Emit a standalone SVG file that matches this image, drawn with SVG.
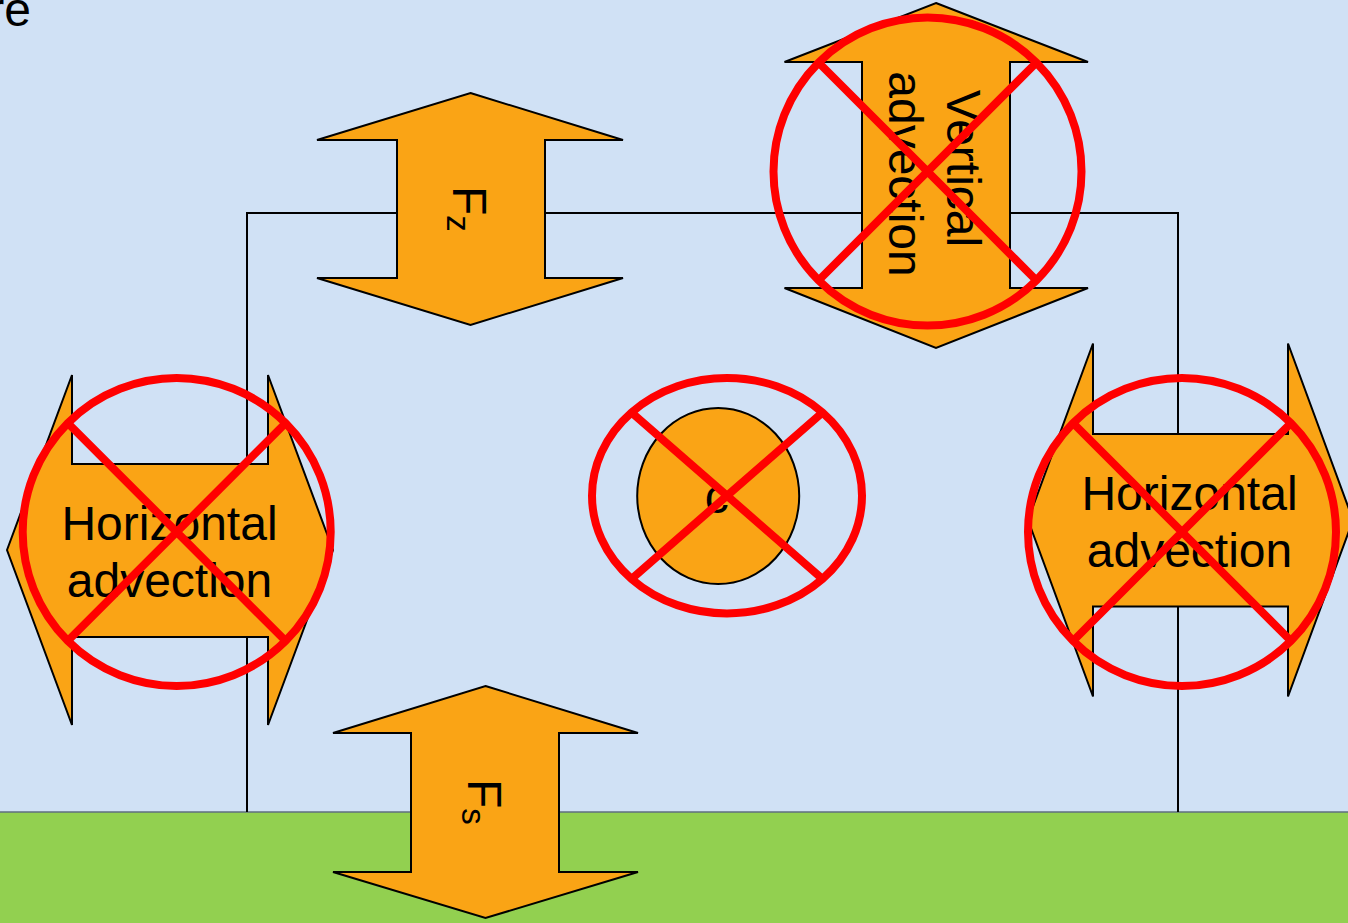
<svg xmlns="http://www.w3.org/2000/svg" width="1348" height="923" viewBox="0 0 1348 923">
<defs>
<style>
.arrow{fill:#FAA415;stroke:#000;stroke-width:2;stroke-linejoin:miter}
.lbl{font-family:"Liberation Sans",Arial,sans-serif;font-size:48px;fill:#000}
.conn{fill:none;stroke:#000;stroke-width:2}
.cross{fill:none;stroke:#FF0000;stroke-width:8}
</style>
</defs>
<rect x="0" y="0" width="1348" height="923" fill="#D0E1F5"/>
<rect id="ground" x="-2" y="812" width="1352" height="115" fill="#92D050" stroke="#5F6F80" stroke-width="1.5"/>
<text class="lbl" x="31" y="26" text-anchor="end">re</text>
<g id="connectors">
<polyline class="conn" points="247,812 247,213 1178,213 1178,812"/>
</g>
<g id="node-fz">
<polygon class="arrow" points="470.5,93 623,140 545,140 545,278 623,278 470.5,325 317,278 397,278 397,140 317,140"/>
<text class="lbl" transform="translate(453,186) rotate(90)">F<tspan font-size="33" dy="6">z</tspan></text>
</g>
<g id="node-vertical-advection">
<polygon class="arrow" points="936,3 1088,62 1010,62 1010,288 1088,288 936,348 784.5,288 862,288 862,62 784.5,62"/>
<text class="lbl" transform="translate(947,168.5) rotate(90)" text-anchor="middle">Vertical</text>
<text class="lbl" transform="translate(889,174) rotate(90)" text-anchor="middle">advection</text>
<circle class="cross" cx="927.5" cy="171.5" r="154"/>
<path class="cross" d="M819,63 L1036,280 M1036,63 L819,280"/>
</g>
<g id="node-horizontal-left">
<polygon class="arrow" points="7,550 72,375 72,464 268,464 268,375 333,550 268,725 268,637 72,637 72,725"/>
<text class="lbl" x="169.5" y="540" text-anchor="middle">Horizontal</text>
<text class="lbl" x="169.5" y="597" text-anchor="middle">advection</text>
<circle class="cross" cx="176.7" cy="532" r="154"/>
<path class="cross" d="M68.2,423.5 L285.2,640.5 M285.2,423.5 L68.2,640.5"/>
</g>
<g id="node-c">
<ellipse class="arrow" cx="718.2" cy="496" rx="81" ry="88"/>
<text class="lbl" x="716.7" y="513" text-anchor="middle">c</text>
<ellipse class="cross" cx="727" cy="495.7" rx="135" ry="117.7"/>
<path class="cross" d="M631.5,412.5 L822.5,578.9 M822.5,412.5 L631.5,578.9"/>
</g>
<g id="node-horizontal-right">
<polygon class="arrow" points="1028,520 1093,343.5 1093,434 1288,434 1288,343.5 1353,520 1288,696.5 1288,606.5 1093,606.5 1093,696.5"/>
<text class="lbl" x="1189.5" y="510" text-anchor="middle">Horizontal</text>
<text class="lbl" x="1189.5" y="567" text-anchor="middle">advection</text>
<circle class="cross" cx="1182" cy="532" r="154"/>
<path class="cross" d="M1073.5,423.5 L1290.5,640.5 M1290.5,423.5 L1073.5,640.5"/>
</g>
<g id="node-fs">
<polygon class="arrow" points="485.5,686 638,733 559,733 559,872 638,872 485.5,918 333,872 411,872 411,733 333,733"/>
<text class="lbl" transform="translate(468,779) rotate(90)">F<tspan font-size="33" dy="6">s</tspan></text>
</g>
</svg>
